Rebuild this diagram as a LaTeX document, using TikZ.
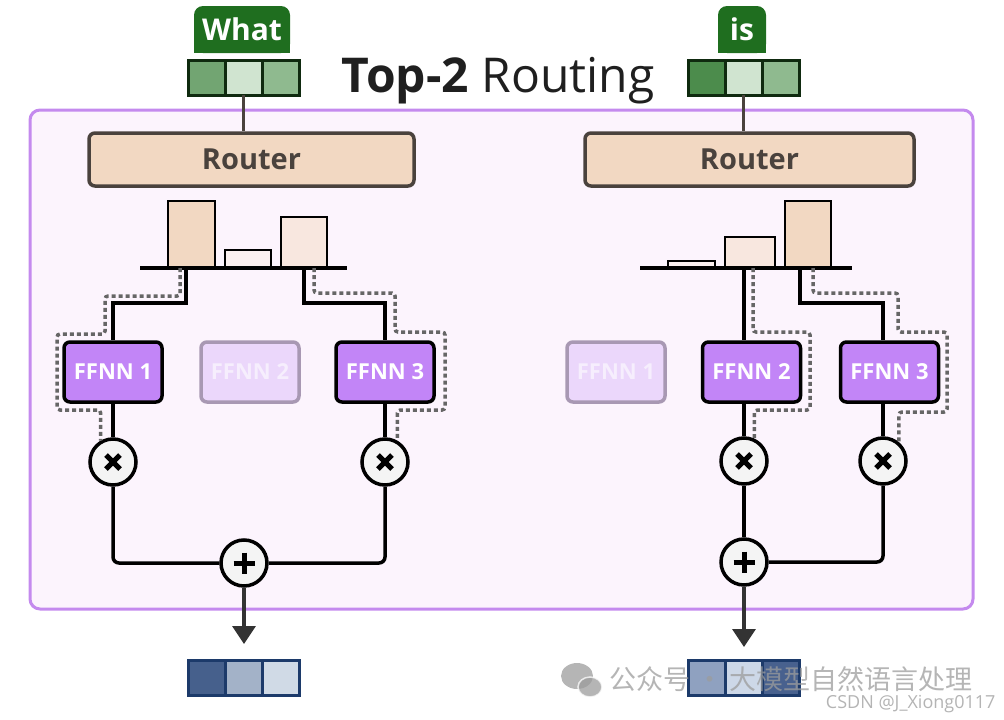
\documentclass[tikz,border=0pt]{standalone}
\usepackage{fontspec}
\setmainfont{Open Sans}
\newfontfamily\cjkfont{Noto Sans CJK SC}
\usetikzlibrary{positioning,arrows.meta}
\definecolor{moeline}{HTML}{C48AEE}
\definecolor{moefill}{HTML}{FCF4FD}
\definecolor{tokgreen}{HTML}{1F6E1F}
\definecolor{tokline}{HTML}{0F2A0F}
\definecolor{tokA1}{HTML}{72A572}
\definecolor{tokB1}{HTML}{4C8C4C}
\definecolor{tokmid}{HTML}{D0E4D0}
\definecolor{tokright}{HTML}{8FBA8F}
\definecolor{routfill}{HTML}{F2D8C2}
\definecolor{routline}{HTML}{4A423D}
\definecolor{barpale}{HTML}{FBF0F0}
\definecolor{barmid}{HTML}{F8E7DF}
\definecolor{expfill}{HTML}{C285F7}
\definecolor{idlefill}{HTML}{EBD7FB}
\definecolor{idleline}{HTML}{A898B3}
\definecolor{idletext}{HTML}{F6EEFD}
\definecolor{gategray}{HTML}{666666}
\definecolor{opfill}{HTML}{F4F4F4}
\definecolor{arrowgray}{HTML}{333333}
\definecolor{outline}{HTML}{1C3A6A}
\definecolor{outA1}{HTML}{46608C}
\definecolor{outA2}{HTML}{A3B2C8}
\definecolor{outA3}{HTML}{D0DAE6}
\definecolor{outB1}{HTML}{8FA1C0}
\definecolor{outB2}{HTML}{CDD8E8}
\definecolor{outB3}{HTML}{48618E}
\definecolor{wmgray}{HTML}{9C9C9C}
\definecolor{wmlight}{HTML}{B4B4B4}
\tikzset{
  cell/.style={draw=tokline, line width=3pt, minimum width=37pt, minimum height=35pt, inner sep=0pt, outer sep=0pt},
  outcell/.style={cell, draw=outline},
  tokname/.style={text=white, font=\fontsize{30}{30}\selectfont\bfseries, anchor=base},
  router/.style={draw=routline, fill=routfill, text=routline, line width=3.5pt, rounded corners=6pt, minimum height=53pt, font=\fontsize{29}{29}\selectfont\bfseries},
  expert/.style={draw=black, fill=expfill, text=white, line width=3.5pt, rounded corners=6pt, minimum width=98pt, minimum height=60pt, inner sep=0pt, font=\fontsize{22}{22}\selectfont\bfseries},
  idle/.style={expert, draw=idleline, fill=idlefill, text=idletext},
  mulnode/.style={circle, draw=black, fill=opfill, line width=3.5pt, minimum size=46pt, inner sep=0pt,
    path picture={\draw[line width=5pt] (path picture bounding box.center) ++(-7,-7) -- ++(14,14) ++(0,-14) -- ++(-14,14);}},
  addnode/.style={circle, draw=black, fill=opfill, line width=3.5pt, minimum size=46pt, inner sep=0pt,
    path picture={\draw[line width=5pt] (path picture bounding box.center) ++(-10.5,0) -- ++(21,0) ++(-10.5,-10.5) -- ++(0,21);}},
  bar/.style={draw=black, line width=2pt},
  wire/.style={draw=black, line width=3.5pt},
  gate/.style={draw=gategray, line width=3.5pt, dash pattern=on 4pt off 3pt, rounded corners=3pt},
  flow/.style={draw=arrowgray, line width=3.5pt, -{Triangle[length=18pt,width=23pt]}}
}
\begin{document}
\begin{tikzpicture}[x=1pt,y=-1pt]
\useasboundingbox (0,0) rectangle (1004,720);
\draw[draw=moeline, fill=moefill, line width=3pt, rounded corners=10pt] (30,110) rectangle (973,609);
\node[font=\fontsize{48}{48}\selectfont, anchor=base, text=black!88] (title) at (498,92) {\textbf{Top-2} Routing};

\fill[tokgreen, rounded corners=9pt] (194,6) rectangle (290,53);
\fill[tokgreen] (194,30) rectangle (290,53);
\node[tokname] (wA) at (242,40) {What};
\fill[tokgreen, rounded corners=9pt] (718,6) rectangle (766,53);
\fill[tokgreen] (718,30) rectangle (766,53);
\node[tokname] (wB) at (742,40) {is};

\node[cell, fill=tokA1] (a1) at (206.5,77.5) {};
\node[cell, fill=tokmid, right=0pt of a1] (a2) {};
\node[cell, fill=tokright, right=0pt of a2] (a3) {};
\node[cell, fill=tokB1] (b1) at (706.5,77.5) {};
\node[cell, fill=tokmid, right=0pt of b1] (b2) {};
\node[cell, fill=tokright, right=0pt of b2] (b3) {};

\node[router, minimum width=325pt] (rA) at (251.5,159.5) {Router};
\node[router, minimum width=329pt] (rB) at (749.5,159.5) {Router};
\draw[wire, draw=routline] (a2.south) -- (a2.south |- rA.north);
\draw[wire, draw=routline] (b2.south) -- (b2.south |- rB.north);

\draw[bar, fill=routfill] (168,268) rectangle (215,201);
\draw[bar, fill=barpale] (225,268) rectangle (271,250);
\draw[bar, fill=barmid] (281,268) rectangle (327,217);
\draw[line width=3.5pt] (140,268) -- (347,268);
\draw[bar, fill=barpale] (668,268) rectangle (715,261);
\draw[bar, fill=barmid] (725,268) rectangle (775,237);
\draw[bar, fill=routfill] (785,268) rectangle (831,201);
\draw[line width=3.5pt] (640,268) -- (852,268);

\coordinate (sA1) at (186,268);
\coordinate (sA3) at (304,268);
\coordinate (sB2) at (744,268);
\coordinate (sB3) at (800,268);
\coordinate (gA1) at (180,268);
\coordinate (gA3) at (314,268);
\coordinate (gB2) at (753,268);
\coordinate (gB3) at (813,268);

\node[expert] (fA1) at (113,372) {FFNN 1};
\node[idle] (fA2) at (250,372) {FFNN 2};
\node[expert] (fA3) at (385,372) {FFNN 3};
\node[idle] (fB1) at (616,372) {FFNN 1};
\node[expert] (fB2) at (751.5,372) {FFNN 2};
\node[expert] (fB3) at (889.5,372) {FFNN 3};

\node[mulnode] (mA1) at (113,462) {};
\node[mulnode] (mA3) at (385,462) {};
\node[mulnode] (mB2) at (744,461) {};
\node[mulnode] (mB3) at (883,461) {};
\node[addnode] (addA) at (244,563) {};
\node[addnode] (addB) at (744,562) {};

\draw[wire] (sA1) -- ++(0,35) -| (fA1.north);
\draw[wire] (sA3) -- ++(0,35) -| (fA3.north);
\draw[wire] (sB2) -- (sB2 |- fB2.north);
\draw[wire] (sB3) -- ++(0,35) -| (mB3 |- fB3.north);

\draw[gate] (gA1) |- (105,296) |- (57,334) -- (57,410) -| (mA1.120);
\draw[gate] (gA3) |- (395,293) |- (445,332) -- (445,410) -| (mA3.60);
\draw[gate] (gB2) |- (810,332) -- (810,410) -| (mB2.65);
\draw[gate] (gB3) |- (898,293) |- (947,332) -- (947,412) -| (mB3.50);

\draw[wire] (fA1) -- (mA1);
\draw[wire] (fA3) -- (mA3);
\draw[wire] (mB2 |- fB2.south) -- (mB2);
\draw[wire] (mB3 |- fB3.south) -- (mB3);

\draw[wire, rounded corners=6pt] (mA1.south) |- (addA.west);
\draw[wire, rounded corners=6pt] (mA3.south) |- (addA.east);
\draw[wire] (mB2) -- (addB);
\draw[wire, rounded corners=6pt] (mB3.south) |- (addB.east);

\coordinate (tipA) at (244,644);
\coordinate (tipB) at (744,647);
\draw[flow] (addA) -- (tipA);
\draw[flow] (addB) -- (tipB);

\node[outcell, fill=outA1] (oA1) at (206.5,677.5) {};
\node[outcell, fill=outA2, right=0pt of oA1] (oA2) {};
\node[outcell, fill=outA3, right=0pt of oA2] (oA3) {};
\node[outcell, fill=outB1] (oB1) at (706.5,678) {};
\node[outcell, fill=outB2, right=0pt of oB1] (oB2) {};
\node[outcell, fill=outB3, right=0pt of oB2] (oB3) {};

\begin{scope}[opacity=0.75]
\fill[wmgray] (577,676) ellipse [x radius=16pt, y radius=13pt];
\fill[wmgray, draw=white, line width=1.5pt] (590,687) ellipse [x radius=12pt, y radius=10pt];
\node[text=wmgray, font=\cjkfont\fontsize{27}{27}\selectfont, anchor=base west] (wm) at (606,689) {公众号 · 大模型自然语言处理};
\end{scope}
\node[text=wmlight, font=\fontsize{18}{18}\selectfont, anchor=base east] (csdn) at (999,708) {CSDN @J\_Xiong0117};
\end{tikzpicture}
\end{document}
